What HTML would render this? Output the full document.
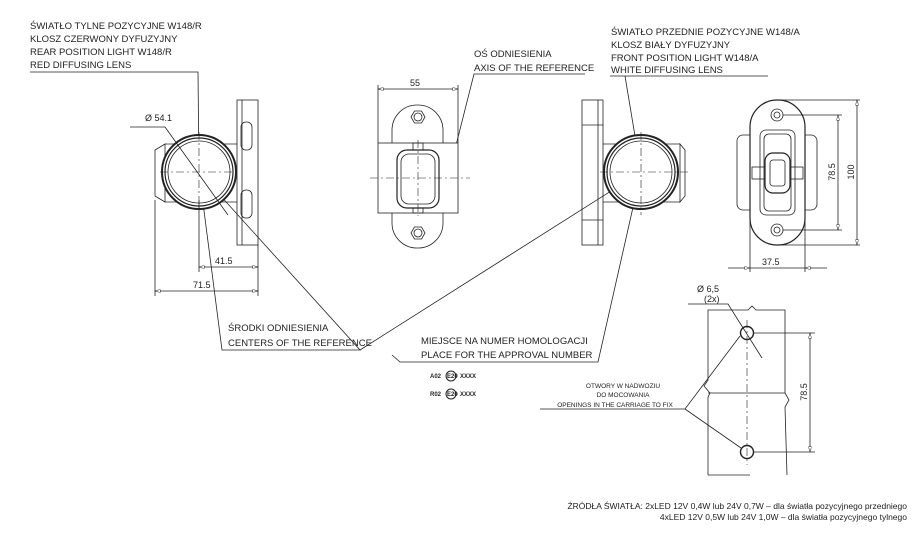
<!DOCTYPE html>
<html><head><meta charset="utf-8"><style>
body{margin:0;background:#fff;width:917px;height:538px;overflow:hidden}
svg{display:block}
text{font-family:"Liberation Sans",sans-serif;fill:#222}
</style></head><body>
<svg width="917" height="538" viewBox="0 0 917 538" xmlns="http://www.w3.org/2000/svg">
<defs>
<marker id="a" viewBox="0 0 10 6" refX="10" refY="3" markerWidth="8" markerHeight="4" orient="auto-start-reverse"><path d="M0,0 L10,3 L0,6 Z" fill="#fff" stroke="#222" stroke-width="1"/></marker>
</defs>
<g font-size="9.5">
<text x="30" y="29">ŚWIATŁO TYLNE POZYCYJNE W148/R</text>
<text x="30" y="42">KLOSZ  CZERWONY DYFUZYJNY</text>
<text x="30" y="55">REAR POSITION LIGHT W148/R</text>
<text x="30" y="68">RED DIFFUSING LENS</text>
<text x="611" y="35">ŚWIATŁO PRZEDNIE POZYCYJNE W148/A</text>
<text x="611" y="48">KLOSZ  BIAŁY DYFUZYJNY</text>
<text x="611" y="61">FRONT POSITION LIGHT W148/A</text>
<text x="611" y="73">WHITE DIFFUSING LENS</text>
<text x="474" y="57">OŚ ODNIESIENIA</text>
<text x="474" y="71">AXIS OF THE REFERENCE</text>
<text x="228" y="331">ŚRODKI ODNIESIENIA</text>
<text x="228" y="346">CENTERS OF THE REFERENCE</text>
<text x="421" y="344">MIEJSCE NA NUMER HOMOLOGACJI</text>
<text x="421" y="358">PLACE FOR THE APPROVAL NUMBER</text>
</g>
<g fill="none" stroke="#222" stroke-width="0.8">
<polyline points="30,72 198,72 199,172 222,350 360,350 199,172"/>
<polyline points="360,350 641,172"/>
<polyline points="768,76 610,76 625,76 641,172 598,362 400,362 392,355"/>
<polyline points="585,74 474,74 448,177"/>
<!-- LEFT VIEW -->
<rect x="237" y="100" width="21" height="145"/>
<line x1="242" y1="100" x2="242" y2="245"/>
<rect x="241" y="122" width="11" height="28" rx="5"/>
<rect x="241" y="190" width="11" height="28" rx="5"/>
<path d="M165,144 L155,150 L155,196 L165,202 Z"/>
<line x1="165" y1="144" x2="237" y2="144"/><line x1="165" y1="202" x2="237" y2="202"/>
<circle cx="199" cy="172" r="37" fill="#fff" stroke-width="2"/>
<circle cx="199" cy="172" r="34" stroke-width="1.2"/>
<circle cx="199" cy="172" r="31"/>
<line x1="160" y1="172" x2="240" y2="172" stroke-dasharray="8,3,2,3" stroke-width="0.6"/>
<line x1="199" y1="132" x2="199" y2="212" stroke-dasharray="8,3,2,3" stroke-width="0.6"/>
<line x1="155" y1="200" x2="155" y2="296"/>
<line x1="199" y1="200" x2="199" y2="272"/>
<line x1="258" y1="245" x2="258" y2="296"/>
<line x1="199" y1="267" x2="258" y2="267" marker-start="url(#a)" marker-end="url(#a)"/>
<line x1="155" y1="291" x2="258" y2="291" marker-start="url(#a)" marker-end="url(#a)"/>
<polyline points="130,127 165,127 228,215"/>
<!-- CENTER VIEW -->
<rect x="392" y="105" width="51" height="143" rx="25" fill="#fff"/>
<rect x="378" y="143" width="80" height="70" fill="#fff"/>
<rect x="397" y="150" width="42" height="58" rx="10" stroke-width="1.2"/>
<rect x="401" y="154" width="34" height="50" rx="8"/>
<rect x="413" y="143" width="10" height="7"/><rect x="413" y="208" width="10" height="5"/>
<polygon points="411,117 414.5,111 421.5,111 425,117 421.5,123 414.5,123" />
<circle cx="418" cy="117" r="4"/>
<polygon points="411,233 414.5,227 421.5,227 425,233 421.5,239 414.5,239" />
<circle cx="418" cy="233" r="4"/>
<line x1="370" y1="178" x2="470" y2="178" stroke-dasharray="8,3,2,3" stroke-width="0.6"/>
<line x1="418" y1="140" x2="418" y2="216" stroke-dasharray="8,3,2,3" stroke-width="0.6"/>
<line x1="378" y1="85" x2="378" y2="143"/><line x1="458" y1="85" x2="458" y2="143"/>
<line x1="378" y1="89" x2="458" y2="89" marker-start="url(#a)" marker-end="url(#a)"/>
<!-- RIGHT VIEW -->
<rect x="582" y="100" width="21" height="145"/>
<line x1="598" y1="100" x2="598" y2="245"/>
<line x1="582" y1="125" x2="603" y2="125"/><line x1="582" y1="220" x2="603" y2="220"/>
<path d="M680,144 L685,150 L685,196 L680,202 Z"/>
<line x1="603" y1="144" x2="680" y2="144"/><line x1="603" y1="202" x2="680" y2="202"/>
<circle cx="641" cy="172" r="37" fill="#fff" stroke-width="2"/>
<circle cx="641" cy="172" r="34" stroke-width="1.2"/>
<circle cx="641" cy="172" r="31"/>
<line x1="600" y1="172" x2="688" y2="172" stroke-dasharray="8,3,2,3" stroke-width="0.6"/>
<line x1="641" y1="132" x2="641" y2="215" stroke-dasharray="8,3,2,3" stroke-width="0.6"/>
<!-- FAR RIGHT VIEW -->
<rect x="737" y="135" width="80" height="75" rx="6" fill="#fff"/>
<rect x="750" y="100" width="55" height="145" rx="27" fill="#fff" stroke-width="1.2"/>
<rect x="760" y="130" width="35" height="85" rx="6"/>
<rect x="764" y="134" width="27" height="77" rx="5"/>
<rect x="765" y="153" width="25" height="40" rx="8" stroke-width="1.2"/>
<rect x="770" y="160" width="15" height="26" rx="3"/>
<rect x="752" y="167" width="13" height="12"/><rect x="790" y="167" width="13" height="12"/>
<circle cx="777" cy="115" r="6"/><circle cx="777" cy="115" r="3"/>
<circle cx="777" cy="230" r="6"/><circle cx="777" cy="230" r="3"/>
<line x1="777" y1="100" x2="860" y2="100"/><line x1="777" y1="245" x2="860" y2="245"/>
<line x1="783" y1="115" x2="842" y2="115"/><line x1="783" y1="230" x2="842" y2="230"/>
<line x1="857" y1="100" x2="857" y2="245" marker-start="url(#a)" marker-end="url(#a)"/>
<line x1="838" y1="115" x2="838" y2="230" marker-start="url(#a)" marker-end="url(#a)"/>
<line x1="750" y1="200" x2="750" y2="272"/><line x1="805" y1="200" x2="805" y2="272"/>
<line x1="728" y1="268" x2="750" y2="268" marker-end="url(#a)"/>
<line x1="750" y1="268" x2="805" y2="268"/>
<line x1="827" y1="268" x2="805" y2="268" marker-end="url(#a)"/>
<!-- HOLES -->
<polyline points="708,475 708,397 710,393 704,386 708,380 708,310 748,310 752,306 756,310 785,310 785,393 789,400 785,407 787,475"/>
<line x1="708" y1="393" x2="785" y2="393"/>
<line x1="708" y1="475" x2="750" y2="475"/>
<circle cx="747" cy="333" r="6.5" stroke-width="1.4"/>
<circle cx="747" cy="452" r="6.5" stroke-width="1.4"/>
<line x1="747" y1="320" x2="747" y2="465" stroke-dasharray="8,3,2,3" stroke-width="0.6"/>
<line x1="753" y1="333" x2="815" y2="333"/><line x1="753" y1="452" x2="815" y2="452"/>
<line x1="810" y1="333" x2="810" y2="452" marker-start="url(#a)" marker-end="url(#a)"/>
<polyline points="688,304 728,304 762,358"/>
<polyline points="540,409 685,409 740,336"/>
<line x1="685" y1="409" x2="741" y2="448"/>
</g>
<g font-size="9">
<text x="145" y="121">Ø 54.1</text>
<text x="215" y="264">41.5</text>
<text x="193" y="288">71.5</text>
<text x="410" y="86">55</text>
<text x="762" y="265">37.5</text>
<text transform="translate(854,172) rotate(-90)" text-anchor="middle">100</text>
<text transform="translate(835,172) rotate(-90)" text-anchor="middle">78.5</text>
<text transform="translate(807,392) rotate(-90)" text-anchor="middle">78.5</text>
<text x="697" y="292">Ø 6,5</text>
<text x="704" y="302">(2x)</text>
</g>
<g font-size="6.5" text-anchor="middle">
<text x="623" y="388">OTWORY W NADWOZIU</text>
<text x="623" y="397">DO MOCOWANIA</text>
<text x="615" y="407">OPENINGS IN THE CARRIAGE TO FIX</text>
</g>
<g font-size="6" font-weight="bold">
<text x="430" y="378">A02</text><circle cx="451" cy="376" r="5" fill="none" stroke="#222"/><text x="447" y="378">E20</text><text x="460" y="378">XXXX</text>
<text x="430" y="396">R02</text><circle cx="451" cy="394" r="5" fill="none" stroke="#222"/><text x="447" y="396">E20</text><text x="460" y="396">XXXX</text>
</g>
<g font-size="8.5" text-anchor="end">
<text x="907" y="509">ŹRÓDŁA ŚWIATŁA: 2xLED 12V 0,4W lub 24V 0,7W – dla światła pozycyjnego przedniego</text>
<text x="907" y="520">4xLED 12V 0,5W lub 24V 1,0W – dla światła pozycyjnego tylnego</text>
</g>
</svg>
</body></html>
